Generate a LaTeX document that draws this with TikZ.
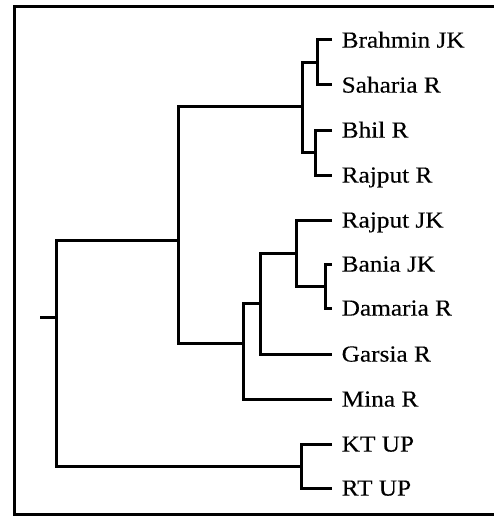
\documentclass[tikz,border=0pt]{standalone}
\usepackage{fontspec}
\newfontfamily\labfont[FakeStretch=1.1,FakeBold=0.25]{Liberation Serif}
\begin{document}
\begin{tikzpicture}[x=1pt,y=-1pt,
  branch/.style={line width=3pt,line join=miter,line cap=butt},
  frameline/.style={line width=3pt},
  leaf/.style={anchor=base west,inner sep=0pt,xshift=9.5pt,yshift=-7.6pt,font=\labfont\fontsize{23}{26}\selectfont}]
\useasboundingbox (0,0) rectangle (494,516);
\clip (0,0) rectangle (494,516);
% frame (right edge lies outside the picture)
\draw[frameline] (520,7) -- (14,7) -- (14,514) -- (520,514);
% leaf tips
\coordinate (tBJ) at (332,40);
\coordinate (tSR) at (332,85);
\coordinate (tBR) at (332,130);
\coordinate (tRR) at (332,175);
\coordinate (tRJ) at (332,220);
\coordinate (tBaJ) at (332,264);
\coordinate (tDR) at (332,308);
\coordinate (tGR) at (332,354);
\coordinate (tMR) at (332,399);
\coordinate (tKT) at (332,444);
\coordinate (tRT) at (332,488);
% labels
\node[leaf] (BJ) at (tBJ) {Brahmin JK};
\node[leaf] (SR) at (tSR) {Saharia R};
\node[leaf] (BR) at (tBR) {Bhil R};
\node[leaf] (RR) at (tRR) {Rajput R};
\node[leaf] (RJ) at (tRJ) {Rajput JK};
\node[leaf] (BaJ) at (tBaJ) {Bania JK};
\node[leaf] (DR) at (tDR) {Damaria R};
\node[leaf] (GR) at (tGR) {Garsia R};
\node[leaf] (MR) at (tMR) {Mina R};
\node[leaf] (KT) at (tKT) {KT UP};
\node[leaf] (RT) at (tRT) {RT UP};
% internal nodes
\coordinate (n1) at (317,62.5);
\coordinate (n2) at (315,152.5);
\coordinate (n3) at (302,107);
\coordinate (n4) at (325,286);
\coordinate (n5) at (296,253);
\coordinate (n6) at (260,303);
\coordinate (n7) at (243,343);
\coordinate (n8) at (178,240);
\coordinate (n9) at (301,466);
\coordinate (root) at (56,317);
\coordinate (stub) at (40,317);
% branches
\draw[branch] (tBJ) -| (n1) |- (tSR);
\draw[branch] (tBR) -| (n2) |- (tRR);
\draw[branch] (n1) -| (n3) |- (n2);
\draw[branch] (tBaJ) -| (n4) |- (tDR);
\draw[branch] (tRJ) -| (n5) |- (n4);
\draw[branch] (n5) -| (n6) |- (tGR);
\draw[branch] (n6) -| (n7) |- (tMR);
\draw[branch] (n3) -| (n8) |- (n7);
\draw[branch] (tKT) -| (n9) |- (tRT);
\draw[branch] (n8) -| (root) |- (n9);
\draw[branch] (stub) -- (root);
\end{tikzpicture}
\end{document}
